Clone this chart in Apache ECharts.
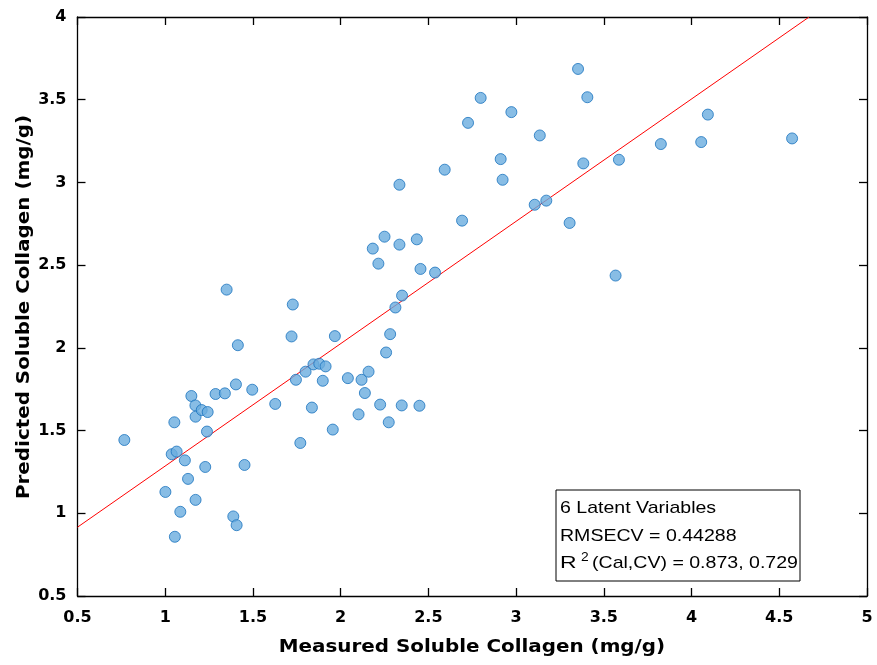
<!DOCTYPE html>
<html>
<head>
<meta charset="utf-8">
<script src="https://cdn.jsdelivr.net/npm/echarts@6/dist/echarts.min.js"></script>
<style>
  html, body { margin: 0; padding: 0; background: #fff; }
  #chart { width: 877px; height: 665px; }
</style>
</head>
<body>
<div id="chart"></div>
<script>
  // measured vs predicted soluble collagen (mg/g)
  var measured = [
    0.767, 1.001, 1.037, 1.065, 1.052, 1.055, 1.086, 1.112, 1.130, 1.149,
    1.172, 1.173, 1.173, 1.208, 1.242, 1.238, 1.228, 1.287, 1.340, 1.350,
    1.388, 1.403, 1.407, 1.414, 1.452, 1.496, 1.627, 1.720, 1.727, 1.745,
    1.770, 1.800, 1.836, 1.845, 1.878, 1.898, 1.914, 1.967, 1.955, 2.041,
    2.102, 2.119, 2.138, 2.159, 2.183, 2.215, 2.225, 2.250, 2.259, 2.282,
    2.274, 2.312, 2.335, 2.335, 2.350, 2.348, 2.434, 2.449, 2.455, 2.538,
    2.593, 2.692, 2.726, 2.798, 2.912, 2.923, 2.973, 3.106, 3.135, 3.172,
    3.305, 3.353, 3.383, 3.406, 3.567, 3.586, 3.825, 4.055, 4.093, 4.573
  ];
  var predicted = [
    1.443, 1.129, 1.357, 1.373, 1.550, 0.858, 1.009, 1.320, 1.208, 1.709,
    1.652, 1.584, 1.081, 1.624, 1.612, 1.494, 1.280, 1.721, 1.725, 2.352,
    0.981, 1.779, 0.928, 2.016, 1.292, 1.747, 1.661, 2.069, 2.262, 1.807,
    1.425, 1.856, 1.639, 1.900, 1.904, 1.801, 1.888, 2.071, 1.506, 1.817,
    1.598, 1.807, 1.727, 1.856, 2.600, 2.509, 1.657, 2.672, 1.972, 2.083,
    1.550, 2.244, 2.624, 2.986, 2.316, 1.652, 2.656, 1.650, 2.477, 2.455,
    3.077, 2.769, 3.360, 3.511, 3.141, 3.016, 3.425, 2.865, 3.284, 2.890,
    2.755, 3.686, 3.115, 3.515, 2.437, 3.137, 3.232, 3.244, 3.410, 3.266
  ];
  // regression line end points
  var fitX = [0.5, 4.67];
  var fitY = [0.916, 4.0];

  var xTitle = 'Measured Soluble Collagen (mg/g)';
  var yTitle = 'Predicted Soluble Collagen (mg/g)';
  var statsLines = ['6 Latent Variables', 'RMSECV = 0.44288', '(Cal,CV) = 0.873, 0.729'];

  var points = measured.map(function (x, i) { return [x, predicted[i]]; });
  var fitLine = fitX.map(function (x, i) { return [x, fitY[i]]; });

  var AXFONT = '"DejaVu Sans", sans-serif';
  var BOXFONT = '"Liberation Sans", Arial, sans-serif';
  var tickStyle = { show: true, inside: true, length: 8, lineStyle: { color: '#000', width: 1.3 } };

  // text inside the stats box, stretched a little like the original
  function boxText(txt, x, y, size, sx) {
    return {
      type: 'text', x: x, y: y, scaleX: sx || 1.15, z: 11,
      style: { text: txt, font: size + 'px ' + BOXFONT, fill: '#000', verticalAlign: 'middle' }
    };
  }
  // axis titles, wide bold like the original
  function titleText(txt, x, y, rot) {
    return {
      type: 'text', x: x, y: y, rotation: rot, scaleX: 1.17, z: 11,
      style: { text: txt, font: 'bold 17px ' + AXFONT, fill: '#000', align: 'center', verticalAlign: 'middle' }
    };
  }

  var chart = echarts.init(document.getElementById('chart'));
  chart.setOption({
    animation: false,
    backgroundColor: '#fff',
    grid: { left: 77.5, right: 10, top: 17, bottom: 69, show: false },
    xAxis: [
      {
        type: 'value', min: 0.5, max: 5, interval: 0.5, position: 'bottom',
        axisLine: { onZero: false, lineStyle: { color: '#000', width: 1.3 } },
        axisTick: tickStyle,
        axisLabel: { fontFamily: AXFONT, fontWeight: 'bold', fontSize: 16, color: '#000', margin: 14 },
        splitLine: { show: false }
      },
      {
        type: 'value', min: 0.5, max: 5, interval: 0.5, position: 'top',
        axisLine: { onZero: false, lineStyle: { color: '#000', width: 1.3 } },
        axisTick: tickStyle, axisLabel: { show: false }, splitLine: { show: false }
      }
    ],
    yAxis: [
      {
        type: 'value', min: 0.5, max: 4, interval: 0.5, position: 'left',
        axisLine: { onZero: false, lineStyle: { color: '#000', width: 1.3 } },
        axisTick: tickStyle,
        axisLabel: { fontFamily: AXFONT, fontWeight: 'bold', fontSize: 16, color: '#000', margin: 11 },
        splitLine: { show: false }
      },
      {
        type: 'value', min: 0.5, max: 4, interval: 0.5, position: 'right',
        axisLine: { onZero: false, lineStyle: { color: '#000', width: 1.3 } },
        axisTick: tickStyle, axisLabel: { show: false }, splitLine: { show: false }
      }
    ],
    series: [
      {
        type: 'line',
        data: fitLine,
        symbol: 'none',
        lineStyle: { color: '#ff0000', width: 1 },
        z: 2
      },
      {
        type: 'scatter',
        data: points,
        symbol: 'circle',
        symbolSize: 11,
        itemStyle: { color: '#6aaddf', borderColor: '#1a73be', borderWidth: 1 },
        z: 3
      }
    ],
    graphic: [
      titleText(xTitle, 472, 648, 0),
      titleText(yTitle, 25, 307, Math.PI / 2),
      {
        type: 'rect', x: 556, y: 490, z: 10,
        shape: { width: 244, height: 91 },
        style: { fill: '#fff', stroke: '#000', lineWidth: 1 }
      },
      boxText(statsLines[0], 560, 508, 17),
      boxText(statsLines[1], 560, 536, 17),
      boxText('R', 560, 563, 17, 1.35),
      boxText('2', 581, 558, 12),
      boxText(statsLines[2], 592, 563, 17)
    ]
  });
</script>
</body>
</html>
